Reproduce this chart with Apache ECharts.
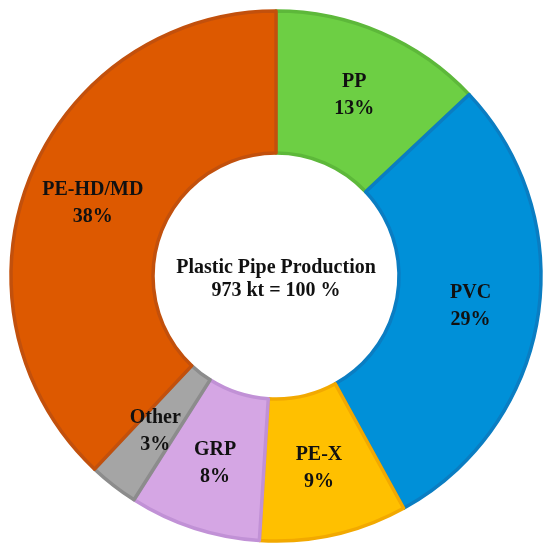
<!DOCTYPE html>
<html>
<head>
<meta charset="utf-8">
<script src="https://cdn.jsdelivr.net/npm/echarts@6/dist/echarts.min.js"></script>
<style>html,body{margin:0;padding:0;background:#fff;}#c{width:550px;height:555px;}</style>
</head>
<body>
<div id="c"></div>
<script>
const categories = ["PP", "PVC", "PE-X", "GRP", "Other", "PE-HD/MD"];
const shares = [13, 29, 9, 8, 3, 38];
const fillColors = ["#6dcf44", "#0090d8", "#ffc000", "#d5a6e4", "#a5a5a5", "#dd5900"];
const edgeColors = ["#5db83a", "#0a7dc2", "#f2a900", "#c191d6", "#8c8c8c", "#c2500c"];
const centerLines = ["Plastic Pipe Production", "973 kt = 100 %"];

const chart = echarts.init(document.getElementById('c'));
const FONT = '"Liberation Serif", "DejaVu Serif", serif';
chart.setOption({
  animation: false,
  backgroundColor: '#fff',
  graphic: [{
    type: 'text',
    x: 276,
    y: 256,
    style: {
      text: centerLines.join('\n'),
      font: 'bold 20px ' + FONT,
      fill: '#111',
      align: 'center',
      verticalAlign: 'top',
      lineHeight: 23
    }
  }],
  series: [{
    type: 'pie',
    center: [276, 276],
    radius: [123, 265],
    startAngle: 90,
    clockwise: true,
    avoidLabelOverlap: false,
    label: {
      show: true,
      position: 'inside',
      formatter: '{b}\n{c}%',
      fontFamily: FONT,
      fontWeight: 'bold',
      fontSize: 20,
      lineHeight: 27,
      color: '#111'
    },
    labelLine: { show: false },
    emphasis: { disabled: true },
    data: categories.map((n, i) => ({
      name: n,
      value: shares[i],
      itemStyle: { color: fillColors[i], borderColor: edgeColors[i], borderWidth: 3.5 }
    }))
  }]
});
</script>
</body>
</html>
